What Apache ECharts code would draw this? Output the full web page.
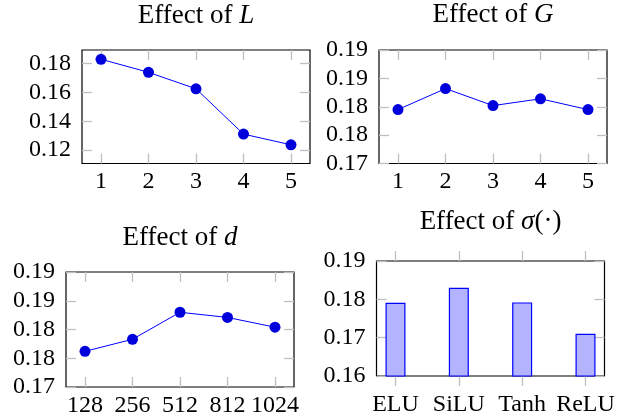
<!DOCTYPE html>
<html><head><meta charset="utf-8">
<script src="https://cdn.jsdelivr.net/npm/echarts@6/dist/echarts.min.js"></script>
<style>html,body{margin:0;padding:0;background:#fff}#c{width:624px;height:419px}</style>
</head><body><div id="c"></div>
<script>
// ---- data ----
const xL = [1, 2, 3, 4, 5];
const valL = [0.1828, 0.1738, 0.1624, 0.1311, 0.1237];
const yTicksL = [0.12, 0.14, 0.16, 0.18];
const yLabelsL = ['0.12', '0.14', '0.16', '0.18'];

const xG = [1, 2, 3, 4, 5];
const valG = [0.1795, 0.1832, 0.1802, 0.1814, 0.1795];
const yTicksG = [0.17, 0.175, 0.18, 0.185, 0.19];
const yLabelsG = ['0.17', '0.18', '0.18', '0.19', '0.19'];

const catD = ['128', '256', '512', '812', '1024'];
const valD = [0.1762, 0.1783, 0.1830, 0.1821, 0.1804];
const yTicksD = [0.17, 0.175, 0.18, 0.185, 0.19];
const yLabelsD = ['0.17', '0.18', '0.18', '0.19', '0.19'];

const catS = ['ELU', 'SiLU', 'Tanh', 'ReLU'];
const valS = [0.1791, 0.1830, 0.1792, 0.1710];
const yTicksS = [0.16, 0.17, 0.18, 0.19];
const yLabelsS = ['0.16', '0.17', '0.18', '0.19'];

// ---- styling ----
const FONT = 'Liberation Serif';
const TICK = { color: '#bfbfbf', width: 1.3 };

const panels = [
  { grid: { left: 82, top: 50, width: 228, height: 113.5 }, xmin: 0.6, xmax: 5.4, ymin: 0.1108, ymax: 0.1892,
    xTicks: xL, xLab: v => String(v), yTicks: yTicksL, yLabels: yLabelsL, xInside: true, xMargin: 6 },
  { grid: { left: 379, top: 50, width: 228, height: 113.5 }, xmin: 0.6, xmax: 5.4, ymin: 0.17, ymax: 0.19,
    xTicks: xG, xLab: v => String(v), yTicks: yTicksG, yLabels: yLabelsG, xInside: true, xMargin: 6 },
  { grid: { left: 66, top: 272, width: 228, height: 115 }, xmin: 0.6, xmax: 5.4, ymin: 0.17, ymax: 0.19,
    xTicks: catD.map((c, i) => i + 1), xLab: v => catD[Math.round(v) - 1], yTicks: yTicksD, yLabels: yLabelsD, xInside: true, xMargin: 7 },
  { grid: { left: 376.5, top: 261, width: 228, height: 115 }, xmin: 0.7, xmax: 4.3, ymin: 0.16, ymax: 0.19,
    xTicks: catS.map((c, i) => i + 1), xLab: v => catS[Math.round(v) - 1], yTicks: yTicksS, yLabels: yLabelsS, xInside: false, xMargin: 17 }
];

const grid = [], xAxis = [], yAxis = [];
panels.forEach((p, i) => {
  grid.push(Object.assign({ show: true, borderColor: '#000', borderWidth: 1.2, backgroundColor: 'transparent' }, p.grid));
  const labFmt = v => {
    const k = p.yTicks.findIndex(t => Math.abs(t - v) < 1e-9);
    return k >= 0 ? p.yLabels[k] : '';
  };
  xAxis.push({
    type: 'value', gridIndex: i, position: 'bottom', min: p.xmin, max: p.xmax,
    axisLine: { show: false }, splitLine: { show: false },
    axisTick: { show: true, inside: p.xInside, length: 10, lineStyle: TICK, customValues: p.xTicks },
    axisLabel: { customValues: p.xTicks, formatter: p.xLab, margin: p.xMargin, color: '#000', fontFamily: FONT, fontSize: 24 }
  });
  xAxis.push({
    type: 'value', gridIndex: i, position: 'top', min: p.xmin, max: p.xmax,
    axisLine: { show: false }, splitLine: { show: false },
    axisTick: { show: true, inside: p.xInside, length: 10, lineStyle: TICK, customValues: p.xTicks },
    axisLabel: { show: false }
  });
  yAxis.push({
    type: 'value', gridIndex: i, position: 'left', min: p.ymin, max: p.ymax,
    axisLine: { show: false }, splitLine: { show: false },
    axisTick: { show: true, inside: true, length: 10, lineStyle: TICK, customValues: p.yTicks },
    axisLabel: { customValues: p.yTicks, formatter: labFmt, margin: 11, color: '#000', fontFamily: FONT, fontSize: 24 }
  });
  yAxis.push({
    type: 'value', gridIndex: i, position: 'right', min: p.ymin, max: p.ymax,
    axisLine: { show: false }, splitLine: { show: false },
    axisTick: { show: true, inside: true, length: 10, lineStyle: TICK, customValues: p.yTicks },
    axisLabel: { show: false }
  });
});

function lineSeries(i, xs, vals) {
  return {
    type: 'line', xAxisIndex: 2 * i, yAxisIndex: 2 * i,
    data: xs.map((x, k) => [x, vals[k]]),
    symbol: 'circle', symbolSize: 11, clip: false,
    lineStyle: { color: '#0000ff', width: 1 },
    itemStyle: { color: '#0000dd', borderWidth: 0 },
    emphasis: { disabled: true }, animation: false
  };
}

const series = [
  lineSeries(0, xL, valL),
  lineSeries(1, xG, valG),
  lineSeries(2, catD.map((c, k) => k + 1), valD),
  {
    type: 'bar', xAxisIndex: 6, yAxisIndex: 6,
    data: catS.map((c, k) => [k + 1, valS[k]]),
    barWidth: 20,
    itemStyle: { color: '#b3b3ff', borderColor: '#0000ff', borderWidth: 1.2 },
    emphasis: { disabled: true }, animation: false
  }
];

function ttl(cx, top, plain, ital, tail) {
  const base = { fontFamily: FONT, fontSize: 27, color: '#000', fontWeight: 'normal' };
  return {
    text: '{a|' + plain + '}{b|' + ital + '}' + (tail ? '{a|' + tail + '}' : ''),
    left: cx, top: top, textAlign: 'center', padding: 0,
    textStyle: { fontWeight: 'normal', rich: { a: base, b: Object.assign({}, base, { fontStyle: 'italic' }) } }
  };
}

const chart = echarts.init(document.getElementById('c'), null, { renderer: 'canvas' });
chart.setOption({
  animation: false,
  backgroundColor: '#fff',
  title: [
    ttl(196, 2, 'Effect of ', 'L'),
    ttl(493, 1, 'Effect of ', 'G'),
    ttl(180, 224, 'Effect of ', 'd'),
    ttl(490.5, 208, 'Effect of ', 'σ', '(·)')
  ],
  grid, xAxis, yAxis, series
});
</script></body></html>
